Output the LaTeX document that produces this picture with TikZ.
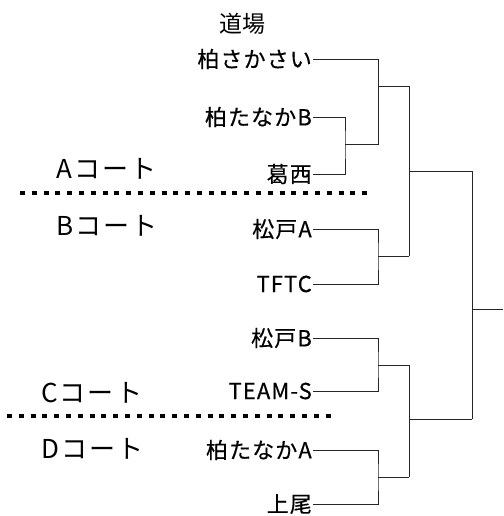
\documentclass[tikz,border=0pt]{standalone}
\usepackage{fontspec}
\setmainfont{Noto Sans CJK JP}
\newfontfamily\teamfont[LetterSpace=5,FakeBold=0.4]{Noto Sans CJK JP}
\newfontfamily\courtfont[LetterSpace=8]{Noto Sans CJK JP}
\usetikzlibrary{positioning}
\tikzset{
  team/.style={anchor=east,inner sep=1pt,font=\teamfont\fontsize{22}{22}\selectfont},
  court/.style={anchor=base west,inner sep=0pt,font=\courtfont\fontsize{26}{26}\selectfont},
  bracket/.style={line width=0.8pt,black!85},
  divider/.style={line width=4.5pt,dash pattern=on 5pt off 6.8pt}
}
\begin{document}
\begin{tikzpicture}[x=1pt,y=-1pt]
  \useasboundingbox (0,0) rectangle (503,516);

  %Nodes
  \node (venue) at (242,24) {\fontsize{23}{23}\selectfont 道場};
  \node [team] (t1) at (313,59) {柏さかさい};
  \node [team] (t2) at (313,117) {柏たなかB};
  \node [team] (t3) at (313,174) {葛西};
  \node [team] (t4) at (313,229) {松戸A};
  \node [team] (t5) at (313,284) {TFTC};
  \node [team] (t6) at (313,338) {松戸B};
  \node [team] (t7) at (313,391) {TEAM-S};
  \node [team] (t8) at (313,450) {柏たなかA};
  \node [team] (t9) at (313,504) {上尾};

  \node [court] (ca) at (56,178) {Aコート};
  \node [court] (cb) at (56,235) {Bコート};
  \node [court] (cc) at (41,402) {Cコート};
  \node [court] (cd) at (41,458) {Dコート};

  %Junctions
  \coordinate (j23) at (345,144);
  \coordinate (r1) at (378,144);
  \coordinate (r1o) at (378,86);
  \coordinate (q1) at (409,86);
  \coordinate (r2) at (378,256);
  \coordinate (q2) at (409,256);
  \coordinate (r3) at (378,365);
  \coordinate (q3) at (409,365);
  \coordinate (r4) at (378,477);
  \coordinate (q4) at (409,477);
  \coordinate (s1) at (472,171);
  \coordinate (s2) at (472,419);
  \coordinate (final) at (503,309);

  %Lines
  \draw[bracket] (t1.east) -| (r1) -- (j23);
  \draw[bracket] (t2.east) -| (j23) |- (t3.east);
  \draw[bracket] (r1o) -- (q1);
  \draw[bracket] (t4.east) -| (r2) |- (t5.east);
  \draw[bracket] (r2) -- (q2);
  \draw[bracket] (q1) |- (s1);
  \draw[bracket] (q2) |- (s1);
  \draw[bracket] (t6.east) -| (r3) |- (t7.east);
  \draw[bracket] (r3) -- (q3);
  \draw[bracket] (t8.east) -| (r4) |- (t9.east);
  \draw[bracket] (r4) -- (q4);
  \draw[bracket] (q3) |- (s2);
  \draw[bracket] (q4) |- (s2);
  \draw[bracket] (s1) |- (final);
  \draw[bracket] (s2) |- (final);

  %Dividers
  \coordinate (dl1) at (20,193);
  \coordinate (dr1) at (373,193);
  \coordinate (dl2) at (7,416);
  \coordinate (dr2) at (337,416);
  \draw[divider] (dl1) -- (dr1);
  \draw[divider] (dl2) -- (dr2);
\end{tikzpicture}
\end{document}
